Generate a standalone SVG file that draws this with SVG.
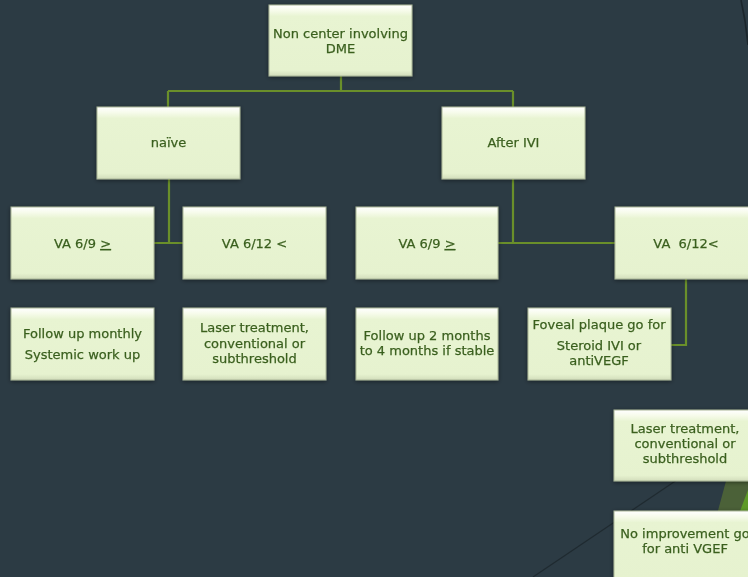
<svg xmlns="http://www.w3.org/2000/svg" width="748" height="577" viewBox="0 0 748 577">
<style>
.box{fill:url(#bevel);stroke:#a9b596;stroke-width:1}
.t{font-family:"DejaVu Sans",Verdana,sans-serif;font-size:13px;fill:#3a5f1e;stroke:#3a5f1e;stroke-width:0.25;text-anchor:middle}
.c{fill:none;stroke:#6a8f2a;stroke-width:2.2}
</style>
<defs>
<linearGradient id="bevel" x1="0" y1="0" x2="0" y2="1">
<stop offset="0" stop-color="#ffffff"/>
<stop offset="0.08" stop-color="#f6fbea"/>
<stop offset="0.16" stop-color="#e8f4d2"/>
<stop offset="0.92" stop-color="#e6f2cf"/>
<stop offset="1" stop-color="#d2ddbb"/>
</linearGradient>
<filter id="sh" x="-10%" y="-10%" width="120%" height="130%">
<feDropShadow dx="0" dy="1" stdDeviation="2" flood-color="#000" flood-opacity="0.45"/>
</filter>
</defs>
<rect width="748" height="577" fill="#2c3b44"/>
<g id="decor">
<path d="M533,577 L760,424" stroke="#1f2a30" stroke-width="1.2" fill="none"/>
<polygon points="729,470 748,452 748,577 700,577" fill="#4b6138"/>
<polygon points="748,490 748,577 715,577" fill="#5d9a26"/>
<path d="M741,0 Q746,22 748,45" stroke="#1c262c" stroke-width="1.6" fill="none"/>
</g>
<g id="connectors">
<path class="c" d="M341,76 V91 M168,91 H513 M168,91 V107 M513,91 V107"/>
<path class="c" d="M169,179 V243 M154,243 H183"/>
<path class="c" d="M513,179 V243 M498,243 H615"/>
<path class="c" d="M686,279 V345 H671"/>
</g>
<g filter="url(#sh)">
<g id="root"><rect class="box" x="269" y="5" width="143" height="71"/>
<text class="t" x="340.5" y="38">Non center involving</text><text class="t" x="340.5" y="53">DME</text></g>
<g id="naive"><rect class="box" x="97" y="107" width="143" height="72"/>
<text class="t" x="168.5" y="147">naïve</text></g>
<g id="afterivi"><rect class="box" x="442" y="107" width="143" height="72"/>
<text class="t" x="513.5" y="147">After IVI</text></g>
<g id="va69a"><rect class="box" x="11" y="207" width="143" height="72"/>
<text class="t" x="82.5" y="248">VA 6/9 <tspan text-decoration="underline">&gt;</tspan></text></g>
<g id="va612a"><rect class="box" x="183" y="207" width="143" height="72"/>
<text class="t" x="254.5" y="248">VA 6/12 &lt;</text></g>
<g id="va69b"><rect class="box" x="356" y="207" width="142" height="72"/>
<text class="t" x="427" y="248">VA 6/9 <tspan text-decoration="underline">&gt;</tspan></text></g>
<g id="va612b"><rect class="box" x="615" y="207" width="143" height="72"/>
<text class="t" x="686" y="248" xml:space="preserve">VA  6/12&lt;</text></g>
<g id="followmonthly"><rect class="box" x="11" y="308" width="143" height="72"/>
<text class="t" x="82.5" y="338">Follow up monthly</text><text class="t" x="82.5" y="359">Systemic work up</text></g>
<g id="laser1"><rect class="box" x="183" y="308" width="143" height="72"/>
<text class="t" x="254.5" y="332">Laser treatment,</text><text class="t" x="254.5" y="348">conventional or</text><text class="t" x="254.5" y="363">subthreshold</text></g>
<g id="follow2"><rect class="box" x="356" y="308" width="142" height="72"/>
<text class="t" x="427" y="340">Follow up 2 months</text><text class="t" x="427" y="355">to 4 months if stable</text></g>
<g id="foveal"><rect class="box" x="528" y="308" width="143" height="72"/>
<text class="t" x="599" y="329">Foveal plaque go for</text><text class="t" x="599" y="350">Steroid IVI or</text><text class="t" x="599" y="365">antiVEGF</text></g>
<g id="laser2"><rect class="box" x="614" y="410" width="143" height="71"/>
<text class="t" x="685" y="433">Laser treatment,</text><text class="t" x="685" y="448">conventional or</text><text class="t" x="685" y="463">subthreshold</text></g>
<g id="noimprove"><rect class="box" x="614" y="511" width="143" height="72"/>
<text class="t" x="685" y="538">No improvement go</text><text class="t" x="685" y="553">for anti VGEF</text></g>
</g>
</svg>
